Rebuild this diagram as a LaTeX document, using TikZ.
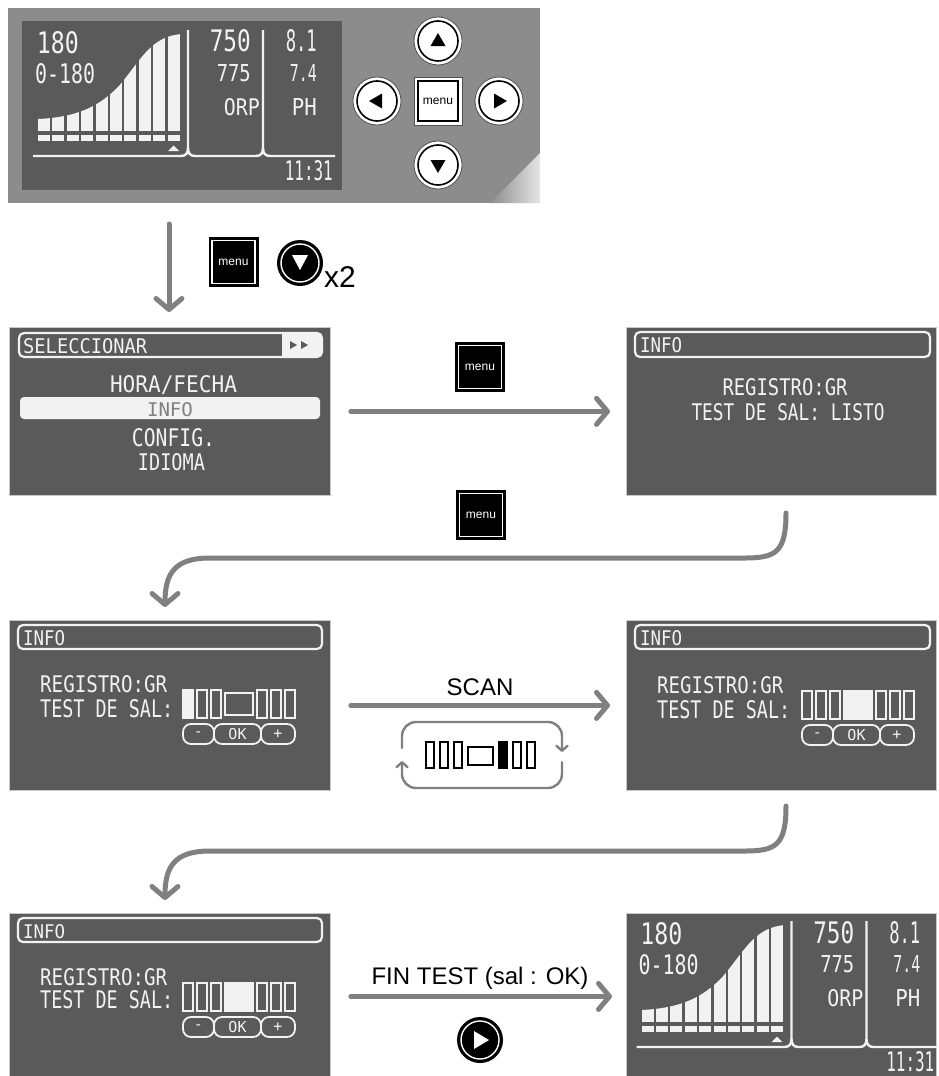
\documentclass[tikz,border=0pt]{standalone}
\usepackage{fontspec}
\usepackage{graphicx}
\usetikzlibrary{arrows.meta}
\setmainfont{Liberation Sans}
\newfontfamily\lcdfont{DejaVu Sans Mono}
\definecolor{panelgray}{HTML}{8C8C8C}
\definecolor{lcdgray}{HTML}{5A5A5A}
\definecolor{scrborder}{HTML}{C8C8C8}
\definecolor{arrowgray}{HTML}{808080}
\definecolor{lcdwhite}{HTML}{F2F2F2}
\definecolor{btnring}{HTML}{505050}
\newcommand\fsz[1]{\fontsize{#1}{#1}\selectfont}
\newcommand\lcdrs[3]{\resizebox{#1pt}{#2pt}{#3}}

\tikzset{
 lcdtext/.style={text=lcdwhite, font=\lcdfont, inner sep=0pt},
 lcdline/.style={draw=lcdwhite, line width=2.4pt},
 segline/.style={draw=lcdwhite, line width=1.8pt},
 screenbox/.style={fill=lcdgray, draw=scrborder, line width=0.8pt, inner sep=0pt, anchor=north west},
 headerbar/.style={draw=lcdwhite, line width=2.2pt, rounded corners=5pt},
 flowarrow/.style={draw=arrowgray, line width=5pt, line cap=round, -{Straight Barb[length=11pt,width=26pt,round]}},
 looparrow/.style={draw=arrowgray, line width=2.4pt, line cap=round, rounded corners=14pt, -{Straight Barb[length=5pt,width=11pt,round]}},
 flowlabel/.style={font=\fsz{24}, text=black, inner sep=0pt},
}

% main LCD contents (coordinates of the top panel); #2 = right edge of the clock text
\newcommand\mainlcd[2]{%
 \begin{scope}
  \clip (38,131) -- (38,119) .. controls (80,117) and (100,105) .. (118,87) .. controls (140,62) and (150,36) .. (182,34) -- (182,131) -- cycle;
  \foreach \i in {0,...,9} {\fill[lcdwhite] ({38+14.4*\i},20) rectangle ({50+14.4*\i},131);}
 \end{scope}
 \foreach \i in {0,...,9} {\fill[lcdwhite] ({38+14.4*\i},135) rectangle ({50+14.4*\i},141);}
 \fill[lcdwhite] (168,151) -- (179,151) -- (173.5,145.5) -- cycle;
 \draw[lcdline] (33,156) -- (181,156) .. controls (186,156) and (188,153) .. (188,148) -- (188,30);
 \draw[lcdline] (188,148) .. controls (188,153) and (190,156) .. (195,156) -- (256,156) .. controls (261,156) and (263,153) .. (263,148) -- (263,30);
 \draw[lcdline] (263,148) .. controls (263,153) and (265,156) .. (270,156) -- (335,156);
 \node[lcdtext, anchor=base west] (#1-v1) at (36.6,53) {\lcdrs{42}{22}{180}};
 \node[lcdtext, anchor=base west] (#1-v2) at (35,83) {\lcdrs{60}{20}{0-180}};
 \node[lcdtext, anchor=base east] (#1-o1) at (251,52) {\lcdrs{41}{22}{750}};
 \node[lcdtext, anchor=base east] (#1-o2) at (251,81) {\lcdrs{34}{17}{775}};
 \node[lcdtext, anchor=base east] (#1-o3) at (260,115) {\lcdrs{36}{17}{ORP}};
 \node[lcdtext, anchor=base east] (#1-p1) at (317,52) {\lcdrs{31}{22}{8.1}};
 \node[lcdtext, anchor=base east] (#1-p2) at (317,81) {\lcdrs{27}{17}{7.4}};
 \node[lcdtext, anchor=base east] (#1-p3) at (317,115) {\lcdrs{25}{17}{PH}};
 \node[lcdtext, anchor=base east] (#1-t) at (#2,180) {\lcdrs{48}{20}{11:31}};
}

% segment strip with - OK + buttons
\newcommand\stripset[4]{%
 \begin{scope}[shift={(#2,#3)}]
  \ifnum#4=1 \fill[lcdwhite] (-0.9,-0.9) rectangle (10.9,28.9); \else \draw[segline] (0,0) rectangle (10,28); \fi
  \draw[segline] (14,0) rectangle (24,28) (28,0) rectangle (38,28);
  \ifnum#4=2 \fill[lcdwhite] (41.1,-0.9) rectangle (70.9,28.9); \else \draw[segline] (42,3) rectangle (70,25); \fi
  \draw[segline] (74,0) rectangle (84,28) (88,0) rectangle (98,28) (102,0) rectangle (112,28);
  \draw[segline, rounded corners=8pt] (0,34) rectangle (31,54);
  \draw[segline, rounded corners=8pt] (31,34) rectangle (78,54);
  \draw[segline, rounded corners=8pt] (78,34) rectangle (112,54);
  \node[lcdtext, font=\lcdfont\fsz{15}] (#1-m) at (15.5,44) {-};
  \node[lcdtext, font=\lcdfont\fsz{15}] (#1-ok) at (54.5,44) {OK};
  \node[lcdtext, font=\lcdfont\fsz{15}] (#1-p) at (95,44) {+};
 \end{scope}
}

\newcommand\navbtn[3]{%
 \node[circle, fill=white, draw=btnring, line width=0.8pt, minimum size=48pt, inner sep=0pt] (#1) at (#2,#3) {};
 \draw[black, line width=1.6pt] (#2,#3) circle[radius=20];
}
\newcommand\menuicon[3]{%
 \node[fill=black, minimum size=50pt, inner sep=0pt, text=white, font=\fsz{12}] (#1) at (#2,#3) {menu};
 \draw[white, line width=1.3pt] ({#2-21.5},{#3-21.5}) rectangle ({#2+21.5},{#3+21.5});
}
\newcommand\darkbtn[3]{%
 \node[circle, fill=black, minimum size=46pt, inner sep=0pt] (#1) at (#2,#3) {};
 \draw[white, line width=1.4pt] (#2,#3) circle[radius=19];
}

\begin{document}
\begin{tikzpicture}[x=1pt, y=-1pt]
\useasboundingbox (0,0) rectangle (938,1076);
\fill[white] (0,0) rectangle (938,1076);

% ---------- top control panel ----------
\node[fill=panelgray, minimum width=532pt, minimum height=195pt, anchor=north west, inner sep=0pt] (panel) at (8,8) {};
\shade[left color=panelgray, right color=white!80!gray] (490,203) -- (540,203) -- (540,153) -- cycle;
\fill[lcdgray] (22,21) rectangle (342,190);
\mainlcd{t}{333}
\navbtn{bup}{438}{41}
\navbtn{bdown}{438}{165}
\navbtn{bleft}{377}{101}
\navbtn{bright}{499}{101}
\fill[black] (430.5,46) -- (445.5,46) -- (438,33) -- cycle;
\fill[black] (430.5,160) -- (445.5,160) -- (438,173) -- cycle;
\fill[black] (382,93.5) -- (382,108.5) -- (369,101) -- cycle;
\fill[black] (494,93.5) -- (494,108.5) -- (507,101) -- cycle;
\node[fill=white, draw=btnring, line width=0.8pt, minimum size=48pt, inner sep=0pt, font=\fsz{12}] (bmenu) at (438,101) {menu};
\draw[black, line width=1.4pt] (418,81) rectangle (458,121);

% ---------- screens ----------
\node[screenbox, minimum width=321pt, minimum height=168pt] (s1) at (9,327) {};
\node[screenbox, minimum width=310pt, minimum height=168pt] (s2) at (626,327) {};
\node[screenbox, minimum width=321pt, minimum height=170pt] (s3) at (9,620) {};
\node[screenbox, minimum width=310pt, minimum height=170pt] (s4) at (626,620) {};
\node[screenbox, minimum width=321pt, minimum height=166pt] (s5) at (9,913) {};
\node[screenbox, minimum width=310pt, minimum height=166pt] (s6) at (626,913) {};

% screen 1: SELECCIONAR menu
\fill[lcdwhite] (282,333) [rounded corners=5pt] -- (322,333) -- (322,357) [sharp corners] -- (282,357) -- cycle;
\draw[headerbar] (19,333) rectangle (322,357);
\fill[lcdgray] (290,341) -- (297,345) -- (290,349) -- cycle;
\fill[lcdgray] (301,341) -- (308,345) -- (301,349) -- cycle;
\node[lcdtext, anchor=base west] (s1h) at (23,353) {\lcdrs{124}{15}{SELECCIONAR}};
\node[lcdtext, anchor=base] (s1a) at (173.5,392) {\lcdrs{127}{17}{HORA/FECHA}};
\fill[lcdwhite, rounded corners=4pt] (20,397) rectangle (320,419);
\node[lcdtext, text=gray, anchor=base] (s1b) at (170,416) {\lcdrs{46}{14}{INFO}};
\node[lcdtext, anchor=base] (s1c) at (173.5,446) {\lcdrs{83}{18}{CONFIG.}};
\node[lcdtext, anchor=base] (s1d) at (171.5,470) {\lcdrs{67}{17}{IDIOMA}};

% screen 2
\draw[headerbar] (635,332) rectangle (930,357);
\node[lcdtext, anchor=base west] (s2h) at (640,352) {\lcdrs{42}{15}{INFO}};
\node[lcdtext, anchor=base] (s2a) at (785,395) {\lcdrs{125}{17}{REGISTRO:GR}};
\node[lcdtext, anchor=base] (s2b) at (788,420) {\lcdrs{193}{17}{TEST DE SAL: LISTO}};

% screen 3
\draw[headerbar] (18,625) rectangle (322,649);
\node[lcdtext, anchor=base west] (s3h) at (23,645) {\lcdrs{42}{15}{INFO}};
\node[lcdtext, anchor=base west] (s3a) at (40,692) {\lcdrs{127}{17}{REGISTRO:GR}};
\node[lcdtext, anchor=base west] (s3b) at (40,717) {\lcdrs{133}{18}{TEST DE SAL:}};
\stripset{s3st}{183}{690}{1}

% screen 4
\draw[headerbar] (635,625) rectangle (930,649);
\node[lcdtext, anchor=base west] (s4h) at (640,645) {\lcdrs{42}{15}{INFO}};
\node[lcdtext, anchor=base west] (s4a) at (657,693) {\lcdrs{126}{17}{REGISTRO:GR}};
\node[lcdtext, anchor=base west] (s4b) at (657,718) {\lcdrs{133}{18}{TEST DE SAL:}};
\stripset{s4st}{802}{691}{2}

% screen 5
\draw[headerbar] (18,918) rectangle (322,942);
\node[lcdtext, anchor=base west] (s5h) at (23,938) {\lcdrs{42}{14}{INFO}};
\node[lcdtext, anchor=base west] (s5a) at (40,985) {\lcdrs{127}{17}{REGISTRO:GR}};
\node[lcdtext, anchor=base west] (s5b) at (40,1008) {\lcdrs{133}{18}{TEST DE SAL:}};
\stripset{s5st}{183}{983}{2}

% screen 6: main display again
\begin{scope}
 \clip (626,913) rectangle (938,1076);
 \begin{scope}[shift={(603.5,891)}]
  \mainlcd{b}{331}
 \end{scope}
\end{scope}

% ---------- connectors ----------
\coordinate (a0s) at (169,224);
\draw[flowarrow, shorten >=15pt] (a0s) -- (a0s |- s1.north);
\menuicon{m0}{233.5}{262}
\darkbtn{d0}{300}{263}
\fill[white] (292,255) -- (308,255) -- (300,270) -- cycle;
\node[font=\fsz{30}, inner sep=0pt, anchor=base west] (x2) at (324,287) {x2};

\draw[flowarrow, shorten <=20pt, shorten >=16pt] (s1.east) -- (s2.west);
\menuicon{m1}{480}{367}
\menuicon{m2}{481}{515}

\coordinate (c1s) at (786,513);
\coordinate (c1e) at (165,607);
\draw[flowarrow] (c1s) .. controls (786,552) and (776,558) .. (745,558) -- (210,558) .. controls (176,558) and (165,572) .. (c1e);

\draw[flowarrow, shorten <=20pt, shorten >=16pt] (s3.east) -- (s4.west);
\node[flowlabel, anchor=base] (scan) at (480,695) {SCAN};
\draw[looparrow] (402,748) -- (402,722) -- (562,722) -- (562,752);
\draw[looparrow] (562,762) -- (562,788) -- (402,788) -- (402,761);
\begin{scope}[shift={(426,740)}]
 \draw[black, line width=1.4pt] (0,2) rectangle (8,28) (14,2) rectangle (22,28) (28,2) rectangle (36,28) (42,7) rectangle (67,25) (87,2) rectangle (95,28) (101,2) rectangle (109,28);
 \fill[black] (72.3,1.3) rectangle (81.7,28.7);
\end{scope}

\coordinate (c2s) at (786,806);
\coordinate (c2e) at (165,900);
\draw[flowarrow] (c2s) .. controls (786,845) and (776,851) .. (745,851) -- (210,851) .. controls (176,851) and (165,865) .. (c2e);

\draw[flowarrow, shorten <=20pt, shorten >=14pt] (s5.east) -- (s6.west);
\node[flowlabel, anchor=base] (fin) at (480,984) {FIN TEST (sal : OK)};
\darkbtn{play}{480}{1040}
\fill[white] (474,1031) -- (474,1049) -- (489,1040) -- cycle;
\end{tikzpicture}
\end{document}
